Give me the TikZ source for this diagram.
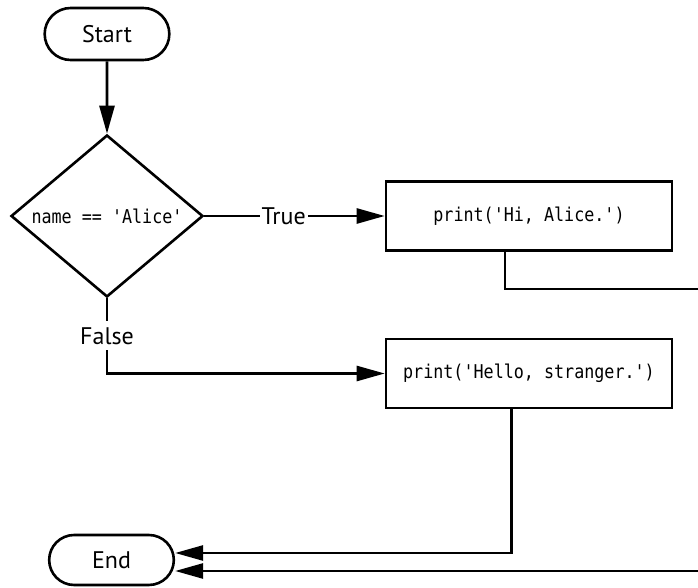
\documentclass[tikz,border=0pt]{standalone}
\usepackage{fontspec}
\setmainfont{PT Sans}
\setmonofont[FakeStretch=0.88]{DejaVu Sans Mono}
\usetikzlibrary{shapes.geometric,shapes.misc,arrows.meta}

\begin{document}
\begin{tikzpicture}[x=0.5pt, y=0.5pt, font=\fontsize{12}{14}\selectfont, line width=1.3pt,
      >={Triangle[length=14pt, width=7.5pt]},
      term/.style={rounded rectangle, draw=black, minimum width=69pt, minimum height=26pt},
      test/.style={diamond, draw=black, aspect=1.2, inner sep=0pt, minimum width=96pt, minimum height=81pt, font=\ttfamily\fontsize{9.5}{11}\selectfont},
      stmt/.style={rectangle, draw=black, minimum width=143pt, minimum height=34.5pt, font=\ttfamily\fontsize{9.5}{11}\selectfont},
      lbl/.style={fill=white, inner xsep=1pt, inner ysep=3pt}]
      \useasboundingbox (0,0) rectangle (698,-588);

      \node[term, name=start] at (107,-34) {Start};
      \node[test, name=cond, below of=start, node distance=91pt] {name == 'Alice'};
      \node[stmt, name=hi, right of=cond, node distance=211pt] {print('Hi, Alice.')};
      \node[stmt, name=hello, below of=hi, node distance=78.75pt] {print('Hello, stranger.')};
      \node[term, name=end, below of=cond, node distance=172pt, xshift=2.25pt, minimum height=25pt] {End};

      \coordinate (hiout) at (698,-289);
      \coordinate (hiback) at (698,-571);

      \path[->]
         (start) edge (cond)
         (cond) edge node[lbl, pos=0.44] {True} (hi);
      \draw[->] (cond.south) |- node[lbl, pos=0.25] {False} (hello);
      \draw ([xshift=-12pt]hi.south) |- (hiout);
      \draw[->] ([xshift=-8.75pt]hello.south) |- ([yshift=3.5pt]end.east);
      \draw[->] (hiback) -- ([yshift=-5.5pt]end.east);
   \end{tikzpicture}
\end{document}
